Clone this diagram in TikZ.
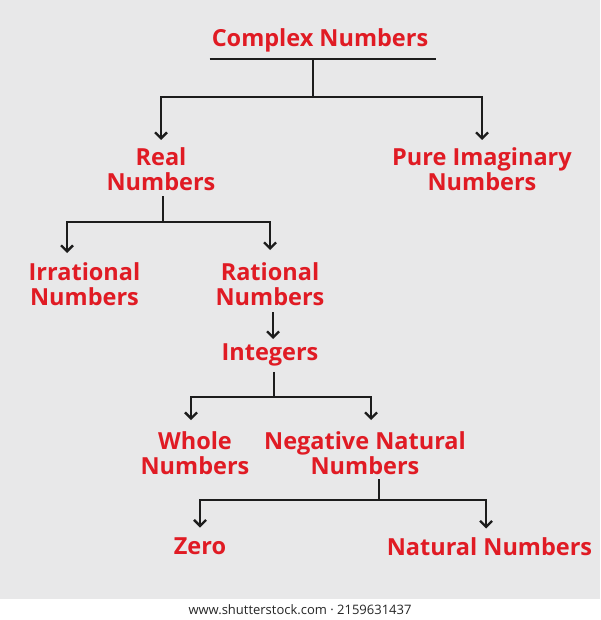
\documentclass[tikz,border=0pt]{standalone}
\usepackage{fontspec}
\setmainfont{Open Sans}
\usetikzlibrary{arrows.meta}
\definecolor{bg}{HTML}{E8E8E9}
\definecolor{txtred}{HTML}{E01B24}
\definecolor{ink}{HTML}{1C1C1C}
\begin{document}
\begin{tikzpicture}[x=1pt,y=-1pt,
  lbl/.style={font=\bfseries\fontsize{23.5}{25}\selectfont, text=txtred, align=center, inner sep=0pt, anchor=north},
  conn/.style={draw=ink, line width=2.9pt},
  arr/.style={conn, -{Straight Barb[length=6pt,width=12pt,line width=2.3pt]}, shorten >=7pt}]
\useasboundingbox (0,0) rectangle (600,620);
\fill[bg] (0,0) rectangle (600,599);
\fill[white] (0,599) rectangle (600,620);

\node[lbl] (cpx) at (320,28) {Complex Numbers};
\node[lbl] (real) at (161,147) {Real\\Numbers};
\node[lbl] (pure) at (482,147) {Pure Imaginary\\Numbers};
\node[lbl] (irr) at (84.5,262) {Irrational\\Numbers};
\node[lbl] (rat) at (270,262) {Rational\\Numbers};
\node[lbl] (int) at (270,344) {Integers};
\node[lbl] (whole) at (195,431) {Whole\\Numbers};
\node[lbl] (neg) at (365,431) {Negative Natural\\Numbers};
\node[lbl] (zero) at (200,537.5) {Zero};
\node[lbl] (nat) at (489.5,537) {Natural Numbers};

\coordinate (cbar) at (313,59);
\coordinate (j1) at (313,97);
\draw[conn] ([xshift=-2pt]cpx.west |- cbar) -- ([xshift=8pt]cpx.east |- cbar);
\draw[conn] (cbar) -- (j1);
\draw[arr] (j1) -| (real.north);
\draw[arr] (j1) -| (pure.north);

\coordinate (j2) at (163,222);
\draw[conn, shorten <=6pt] (j2 |- real.south) -- (j2);
\draw[arr, shorten >=9pt] (j2) -| ([xshift=-17.5pt]irr.north);
\draw[arr, shorten >=12pt] (j2) -| (rat.north);

\draw[arr, shorten <=7pt, shorten >=5pt] ([xshift=3pt]rat.south) -- ([xshift=3pt]int.north);

\coordinate (j3) at (274,397);
\draw[conn, shorten <=5pt] (j3 |- int.south) -- (j3);
\draw[arr, shorten >=11pt] (j3) -| ([xshift=-4pt]whole.north);
\draw[arr, shorten >=11pt] (j3) -| ([xshift=6pt]neg.north);

\coordinate (j4) at (379,500);
\draw[conn, shorten <=5pt] (j4 |- neg.south) -- (j4);
\draw[arr, shorten >=10pt] (j4) -| (zero.north);
\draw[arr, shorten >=8.5pt] (j4) -| ([xshift=-3.5pt]nat.north);

\node[font=\fontsize{13}{15}\selectfont, text=black!85, inner sep=0pt] (foot) at (300,610) {www.shutterstock.com · 2159631437};
\end{tikzpicture}
\end{document}
